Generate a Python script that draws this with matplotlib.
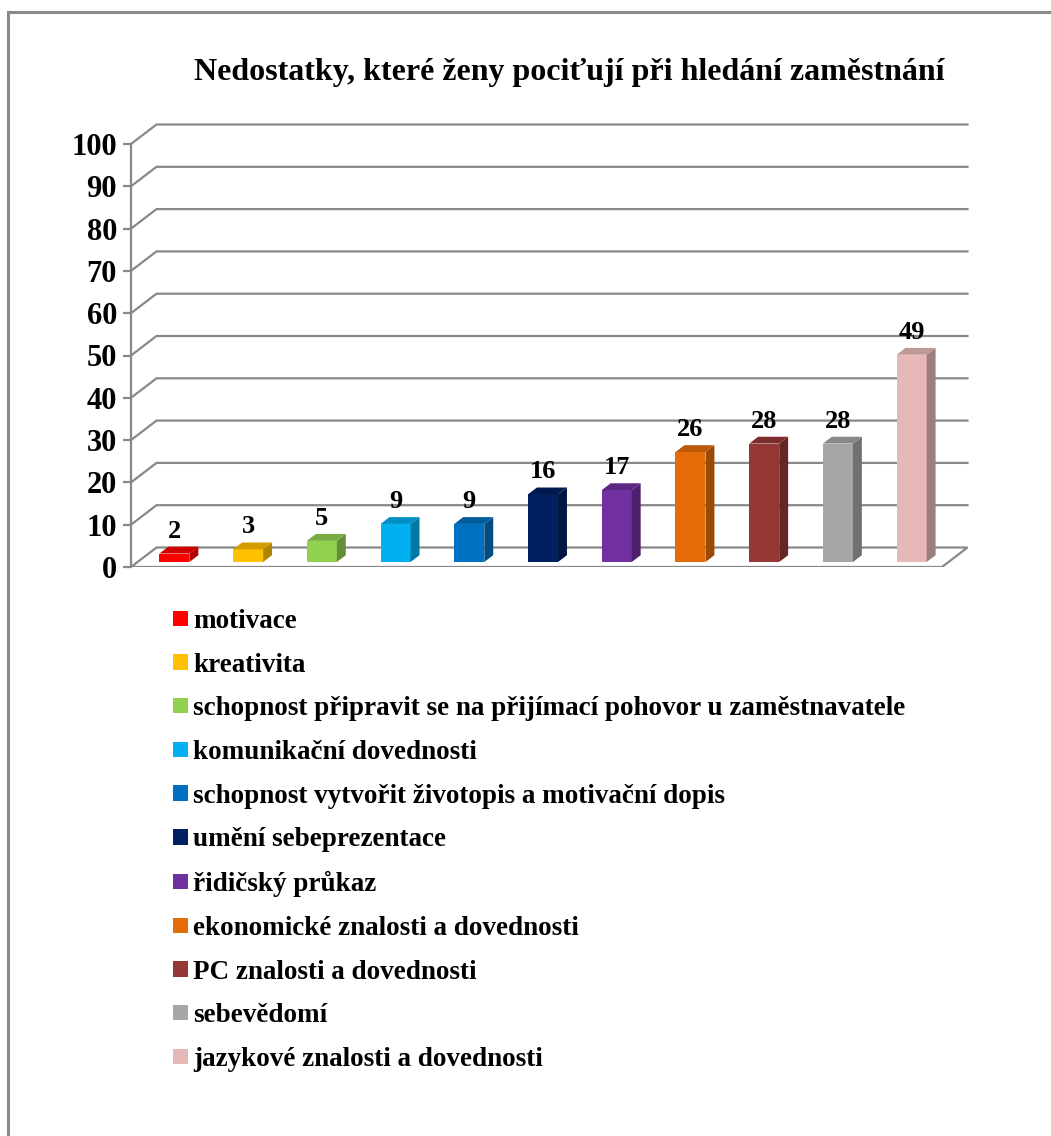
import matplotlib
matplotlib.use("Agg")
import matplotlib.pyplot as plt
from matplotlib.patches import Polygon, Rectangle
from matplotlib.colors import to_rgb

plt.rcParams['font.family'] = ['Liberation Serif', 'DejaVu Serif']
plt.rcParams['font.weight'] = 'bold'

title = "Nedostatky, které ženy pociťují při hledání zaměstnání"
categories = [
    "motivace",
    "kreativita",
    "schopnost připravit se na přijímací pohovor u zaměstnavatele",
    "komunikační dovednosti",
    "schopnost vytvořit životopis a motivační dopis",
    "umění sebeprezentace",
    "řidičský průkaz",
    "ekonomické znalosti a dovednosti",
    "PC znalosti a dovednosti",
    "sebevědomí",
    "jazykové znalosti a dovednosti",
]
values = [2, 3, 5, 9, 9, 16, 17, 26, 28, 28, 49]
colors = ["#FF0000", "#FFC000", "#92D050", "#00B0F0", "#0070C0", "#002060",
          "#7030A0", "#E36C09", "#953735", "#A6A6A6", "#E6B9B8"]
yticks = [0, 10, 20, 30, 40, 50, 60, 70, 80, 90, 100]

W, H = 1051, 1136
fig = plt.figure(figsize=(W / 100, H / 100), dpi=100)

# outer chart-area border
fig.patches.append(Rectangle((8 / W, -0.05), 1.1, 1 - 12 / H + 0.05,
                             transform=fig.transFigure, fill=False,
                             ec="#8a8a8a", lw=2.2))

# plot area in pixels (front plane + depth)
L, R, T, B = 131, 967.5, 124.5, 567
ax = fig.add_axes([L / W, 1 - B / H, (R - L) / W, (B - T) / H])
n = len(values)
xs = 11 / 811.0           # data units per pixel horizontally
ys = 100 / 423.0          # data units per pixel vertically
DX, DY = 25.5 * xs, 19.5 * ys
ax.set_xlim(-0.5, n - 0.5 + DX)
ax.set_ylim(0, 100 + DY)

grid_c = "#888888"
for s in ["top", "right", "bottom"]:
    ax.spines[s].set_visible(False)
ax.spines["left"].set_bounds(0, 100)
ax.spines["left"].set_color(grid_c)
ax.spines["left"].set_linewidth(1.6)
ax.set_xticks([])
ax.set_yticks(yticks)
ax.tick_params(axis="y", direction="out", length=6, width=1.6, color=grid_c,
               pad=4, labelsize=22)
for lab in ax.get_yticklabels():
    lab.set_fontweight("bold")

# floor
ax.add_patch(Polygon([(-0.5, 0), (n - 0.5, 0), (n - 0.5 + DX, DY), (-0.5 + DX, DY)],
                     closed=True, fc="white", ec=grid_c, lw=1.6, zorder=1))
# back-wall gridlines
for v in yticks[1:]:
    ax.plot([-0.5, -0.5 + DX, n - 0.5 + DX], [v, v + DY, v + DY],
            color=grid_c, lw=1.6, zorder=1, clip_on=False, solid_joinstyle="miter")

# 3D-looking columns
w = 30 * xs
f0 = 0.256
d = 0.35
xpos = [i + f0 * DX for i in range(n)]
bars = ax.bar(xpos, values, width=w, bottom=f0 * DY, color=colors, zorder=3)


def shade(c, k):
    r, g, b = to_rgb(c)
    return (r * k, g * k, b * k)


for rect, c, v in zip(bars.patches, colors, values):
    x0 = rect.get_x()
    y0 = rect.get_y()
    x1 = x0 + rect.get_width()
    y1 = y0 + rect.get_height()
    ox, oy = d * DX, d * DY
    ax.add_patch(Polygon([(x1, y0), (x1 + ox, y0 + oy), (x1 + ox, y1 + oy), (x1, y1)],
                         closed=True, fc=shade(c, 0.68), ec="none", zorder=3))
    ax.add_patch(Polygon([(x0, y1), (x1, y1), (x1 + ox, y1 + oy), (x0 + ox, y1 + oy)],
                         closed=True, fc=shade(c, 0.82), ec="none", zorder=3))
    ax.text(x0 + rect.get_width() / 2, y1 + 16 * ys, str(v), ha="center",
            va="baseline", fontsize=19, fontweight="bold", zorder=4)

fig.text(569 / W, 1 - 80 / H, title, ha="center", va="baseline",
         fontsize=23, fontweight="bold")

fig.legend(bars.patches, categories, loc="upper left",
           bbox_to_anchor=(173 / W, 1 - 609 / H), frameon=False,
           prop={"family": "Liberation Serif", "weight": "bold", "size": 19.5},
           handlelength=0.55, handleheight=0.5, handletextpad=0.2,
           labelspacing=0.69, borderpad=0, borderaxespad=0)

fig.savefig("out.png", dpi=100)
